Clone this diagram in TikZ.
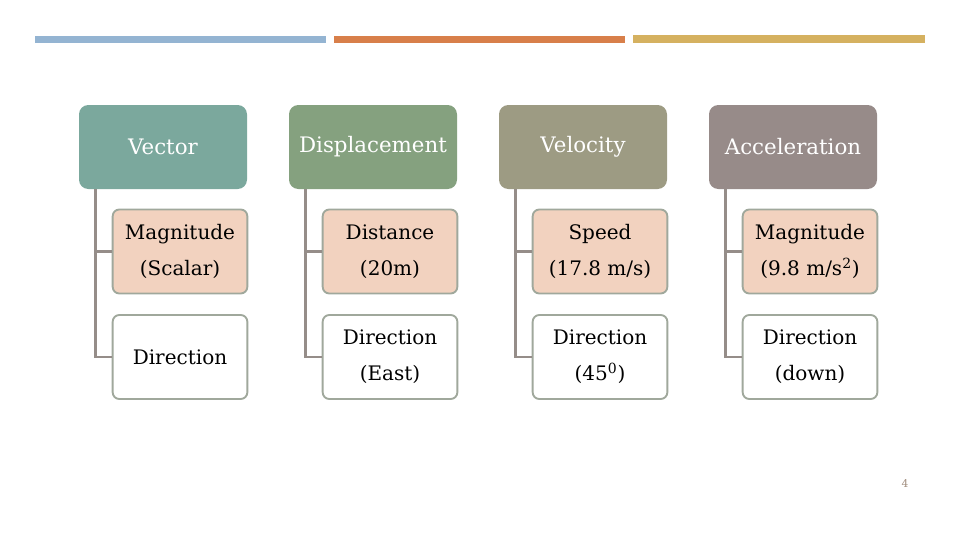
\documentclass[tikz,border=0pt]{standalone}
\usepackage{fontspec}
\setmainfont{DejaVu Serif}
\usetikzlibrary{positioning}

\definecolor{barblue}{HTML}{94B4D2}
\definecolor{barorange}{HTML}{D87F4A}
\definecolor{bargold}{HTML}{D5B160}
\definecolor{hvector}{HTML}{7BA89D}
\definecolor{hdisp}{HTML}{85A17F}
\definecolor{hvel}{HTML}{9D9B83}
\definecolor{hacc}{HTML}{978B89}
\definecolor{peach}{HTML}{F2D2BF}
\definecolor{boxline}{HTML}{A0A89C}
\definecolor{treeline}{HTML}{958D89}
\definecolor{pagenum}{HTML}{A08C7C}

\begin{document}
\begin{tikzpicture}[
        x=0.75pt, y=-0.75pt,
        header/.style={rectangle, rounded corners=7pt, inner sep=0pt, minimum width=126pt, minimum height=63pt, align=center, text=white, font=\fontsize{16}{19}\selectfont},
        item/.style={draw=boxline, line width=1.4pt, rectangle, rounded corners=5pt, inner sep=0pt, minimum width=101pt, minimum height=63pt, align=center, font=\fontsize{15}{27}\selectfont},
        tree/.style={draw=treeline, line width=2.2pt}
    ]
        \useasboundingbox (0,0) rectangle (960,540);
        \fill[white] (0,0) rectangle (960,540);

        % Top bars
        \fill[barblue] (35,36) rectangle (326,43);
        \fill[barorange] (334,36) rectangle (625,43);
        \fill[bargold] (633,35) rectangle (925,43);

        % Headers
        \node (vec) [header, fill=hvector] at (163,147) {Vector};
        \node (disp) [header, fill=hdisp] at (373,147) {Displacement};
        \node (vel) [header, fill=hvel] at (583,147) {Velocity};
        \node (acc) [header, fill=hacc] at (793,147) {Acceleration};

        % Items
        \node (vecmag) [item, fill=peach] at (180,251.5) {Magnitude\\(Scalar)};
        \node (vecdir) [item, fill=white] at (180,357) {Direction};
        \node (dispmag) [item, fill=peach] at (390,251.5) {Distance\\(20m)};
        \node (dispdir) [item, fill=white] at (390,357) {Direction\\(East)};
        \node (velmag) [item, fill=peach] at (600,251.5) {Speed\\(17.8 m/s)};
        \node (veldir) [item, fill=white] at (600,357) {Direction\\(45\textsuperscript{0})};
        \node (accmag) [item, fill=peach] at (810,251.5) {Magnitude\\(9.8 m/s\textsuperscript{2})};
        \node (accdir) [item, fill=white] at (810,357) {Direction\\(down)};

        % Tree lines
        \foreach \h/\m/\d in {vec/vecmag/vecdir, disp/dispmag/dispdir, vel/velmag/veldir, acc/accmag/accdir} {
            \draw [tree] ([xshift=12.75pt]\h.south west) |- (\d.west);
            \draw [tree] ([xshift=12.75pt]\h.south west) |- (\m.west);
        }

        % Page number
        \node (page) [text=pagenum, font=\fontsize{8}{9}\selectfont] at (905,484) {4};
    \end{tikzpicture}
\end{document}
